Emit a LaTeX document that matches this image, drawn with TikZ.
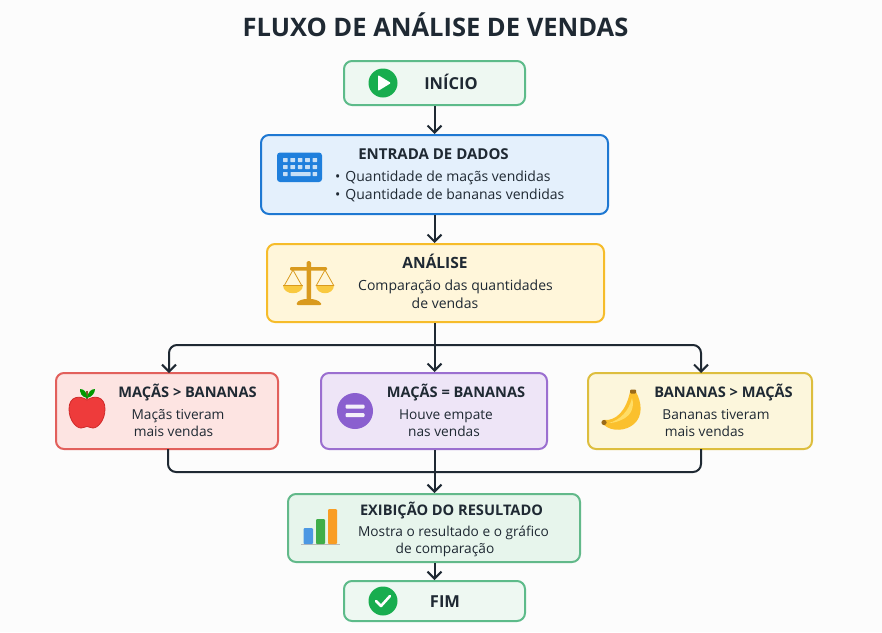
\documentclass[tikz,border=0pt]{standalone}
\usepackage{fontspec}
\setmainfont{Open Sans}
\usetikzlibrary{arrows.meta}
\definecolor{ink}{HTML}{1F2933}
\definecolor{grS}{HTML}{5DBB8A}\definecolor{grF}{HTML}{EEF8F2}
\definecolor{blS}{HTML}{1E78D2}\definecolor{blF}{HTML}{E4F0FC}
\definecolor{amS}{HTML}{F6BC2A}\definecolor{amF}{HTML}{FFF6DA}
\definecolor{reS}{HTML}{E2605C}\definecolor{reF}{HTML}{FDE4E2}
\definecolor{puS}{HTML}{9B6FD0}\definecolor{puF}{HTML}{EEE5F7}
\definecolor{yeS}{HTML}{DDBE3E}\definecolor{yeF}{HTML}{FCF6DC}
\definecolor{rsS}{HTML}{62B98A}\definecolor{rsF}{HTML}{E7F5EC}
\definecolor{icG}{HTML}{18AD4F}
\definecolor{icB}{HTML}{1F7FDC}
\definecolor{icP}{HTML}{8A5FCF}
\tikzset{
  box/.style={draw=#1S,fill=#1F,line width=2pt,rounded corners=8pt,inner sep=0pt},
  ttl/.style={anchor=base,inner sep=0pt,text=ink,font=\fontsize{14.6}{16}\selectfont\bfseries},
  body/.style={anchor=base,inner sep=0pt,text=ink,font=\fontsize{14}{16}\selectfont},
  bodys/.style={anchor=base,inner sep=0pt,text=ink,font=\fontsize{13.7}{16}\selectfont},
  arr/.style={draw=ink,line width=2pt,-{Straight Barb[length=7pt,width=14pt,line width=2pt]}},
  lin/.style={draw=ink,line width=2pt},
}
\begin{document}
\begin{tikzpicture}[x=1pt,y=-1pt]
\useasboundingbox (0,0) rectangle (882,632);
\fill[white!99!black] (0,0) rectangle (882,632);
% title
\node[anchor=base,inner sep=0pt,text=ink,font=\fontsize{25.5}{28}\selectfont\bfseries] (title) at (435.5,36) {FLUXO DE ANÁLISE DE VENDAS};
% boxes
\node[box=gr,minimum width=181pt,minimum height=44pt] (inicio) at (434.5,83) {};
\node[box=bl,minimum width=347pt,minimum height=79pt] (entrada) at (434.5,174.5) {};
\node[box=am,minimum width=337pt,minimum height=78pt] (analise) at (435.5,283) {};
\node[box=re,minimum width=222pt,minimum height=76pt] (red) at (167,411) {};
\node[box=pu,minimum width=226pt,minimum height=76pt] (pur) at (434,411) {};
\node[box=ye,minimum width=224pt,minimum height=76pt] (yel) at (700,411) {};
\node[box=rs,minimum width=292pt,minimum height=68pt] (res) at (434,528) {};
\node[box=gr,minimum width=181pt,minimum height=40pt] (fim) at (434.5,601) {};
% connectors
\coordinate (busT) at (434.5,345);
\coordinate (busB) at (434.5,472);
\coordinate (rT) at (169,373);
\coordinate (yT) at (701,373);
\coordinate (rB) at (168,449);
\coordinate (yB) at (701,449);
\draw[arr] (inicio.south) -- (inicio.south|-entrada.north);
\draw[arr] (entrada.south) -- (entrada.south|-analise.north);
\draw[lin] (busT|-analise.south) -- (busT);
\draw[arr] (busT) -- (busT|-pur.north);
\draw[arr,rounded corners=8pt] (busT) -| (rT);
\draw[arr,rounded corners=8pt] (busT) -| (yT);
\draw[lin] (busB|-pur.south) -- (busB);
\draw[lin,rounded corners=8pt] (rB) |- (busB);
\draw[lin,rounded corners=8pt] (yB) |- (busB);
\draw[arr] (busB) -- (busB|-res.north);
\draw[arr] (busB|-res.south) -- (busB|-fim.north);
% texts
\node[ttl,font=\fontsize{16.5}{18}\selectfont\bfseries] (t1) at (451,89) {INÍCIO};
\node[ttl,font=\fontsize{15}{16}\selectfont\bfseries] (t2) at (433.5,159) {ENTRADA DE DADOS};
\node[body,anchor=base west] (t3) at (335,181) {•\hspace{5pt}Quantidade de maçãs vendidas};
\node[body,anchor=base west] (t4) at (335,199) {•\hspace{5pt}Quantidade de bananas vendidas};
\node[ttl,font=\fontsize{15.5}{16}\selectfont\bfseries] (t5) at (435,268) {ANÁLISE};
\node[body] (t6) at (455.5,290) {Comparação das quantidades};
\node[body] (t7) at (445,308) {de vendas};
\node[ttl] (t8) at (187.5,397) {MAÇÃS > BANANAS};
\node[bodys] (t9) at (178,419) {Maçãs tiveram};
\node[bodys] (t10) at (173.5,436) {mais vendas};
\node[ttl] (t11) at (456,397) {MAÇÃS = BANANAS};
\node[bodys] (t12) at (446,419) {Houve empate};
\node[bodys] (t13) at (444,436) {nas vendas};
\node[ttl] (t14) at (723.5,397) {BANANAS > MAÇÃS};
\node[bodys] (t15) at (716,419) {Bananas tiveram};
\node[bodys] (t16) at (704.5,436) {mais vendas};
\node[ttl] (t17) at (451.5,515) {EXIBIÇÃO DO RESULTADO};
\node[bodys] (t18) at (453.5,536) {Mostra o resultado e o gráfico};
\node[bodys] (t19) at (445,553) {de comparação};
\node[ttl,font=\fontsize{16.5}{18}\selectfont\bfseries] (t20) at (445,607) {FIM};
% play icon
\fill[icG] (383,83) circle (14.5);
\fill[white,rounded corners=1pt] (378,75) -- (391,83) -- (378,91) -- cycle;
% check icon
\fill[icG] (383,601) circle (14.5);
\draw[white,line width=2.6pt,line cap=round,line join=round] (376,601) -- (381,606) -- (390,596);
% keyboard
\fill[icB,rounded corners=3pt] (277,152.5) rectangle (322,182);
\foreach \yy in {158,165} \foreach \c in {0,...,4}
  \fill[white!75!icB,rounded corners=.5pt] ({283+\c*7.4},\yy) rectangle ++(4.6,4);
\fill[white!75!icB,rounded corners=.5pt] (283,172) rectangle ++(4.6,4);
\fill[white!75!icB,rounded corners=.5pt] (290.5,172) rectangle ++(20,4);
\fill[white!75!icB,rounded corners=.5pt] (312.6,172) rectangle ++(4.6,4);
% scales
\definecolor{scD}{HTML}{D99A1E}\definecolor{scL}{HTML}{F9C940}
\fill[scD,rounded corners=1.5pt] (306.5,261) rectangle (311,300);
\fill[scD,rounded corners=1.2pt] (290,267) rectangle (327,270.5);
\fill[scD,rounded corners=2pt] (296,305) .. controls (298,300) and (304,299) .. (308.5,299) .. controls (313,299) and (319,300) .. (322,305) -- cycle;
\draw[scD,line width=.8pt] (293,270) -- (284,286) (293,270) -- (302,286) (325,270) -- (316,286) (325,270) -- (334,286);
\fill[scL] (283,285) .. controls (283,296) and (302.5,296) .. (302.5,285) -- cycle;
\fill[scL] (315.5,285) .. controls (315.5,296) and (334,296) .. (334,285) -- cycle;
\draw[scD,line width=1pt] (283,285) -- (302.5,285) (315.5,285) -- (334,285);
% apple
\definecolor{apR}{HTML}{EE3B3B}\definecolor{apD}{HTML}{CF2A2A}
\fill[apR,draw=apD,line width=.8pt] (87,400) .. controls (80,395) and (69,396) .. (69,409) .. controls (69,420) and (76,428) .. (81,428) .. controls (84,428) and (85,426.5) .. (87,426.5) .. controls (89,426.5) and (90,428) .. (93,428) .. controls (98,428) and (105,420) .. (105,409) .. controls (105,396) and (94,395) .. (87,400) -- cycle;
\draw[brown!70!black,line width=1.5pt] (87,390.5) -- (87,399);
\fill[green!60!black] (87,398) .. controls (81,397) and (80,392) .. (80,389) .. controls (84,389) and (87,392) .. (87,398) -- cycle;
\fill[green!60!black] (87,398) .. controls (88,392) and (91,389) .. (95,389) .. controls (95,393) and (92,397) .. (87,398) -- cycle;
% equals icon
\fill[icP] (355,411) circle (18);
\fill[white!90!icP,rounded corners=1pt] (345.5,404.5) rectangle (364.5,408.5);
\fill[white!90!icP,rounded corners=1pt] (345.5,413) rectangle (364.5,417);
% banana
\definecolor{baY}{HTML}{FBC02D}\definecolor{baL}{HTML}{FFDD66}\definecolor{baB}{HTML}{9A6A1A}
\fill[baY] (630,392) -- (636,392) .. controls (642,403) and (643,416) .. (634,424) .. controls (626,431) and (612,432) .. (604,425) -- (604,420) .. controls (616,421) and (626,411) .. (630,392) -- cycle;
\fill[baL] (632,398) .. controls (635,408) and (630,415) .. (625,418) .. controls (620,421) and (614,423) .. (609,423) .. controls (620,420) and (629,411) .. (632,398) -- cycle;
\fill[baB,rounded corners=1pt] (630,389.5) rectangle (636,393.5);
\fill[baB] (604,422.5) circle (2.6);
% bars
\fill[gray!55] (301,543.5) rectangle (340,545);
\fill[icB!80!white,rounded corners=1pt] (303.5,528) rectangle (313,544);
\definecolor{baG}{HTML}{3FAE49}\definecolor{baO}{HTML}{F99D24}
\fill[baG,rounded corners=1pt] (316,519) rectangle (325,544);
\fill[baO,rounded corners=1pt] (328,509) rectangle (337,544);
\end{tikzpicture}
\end{document}
